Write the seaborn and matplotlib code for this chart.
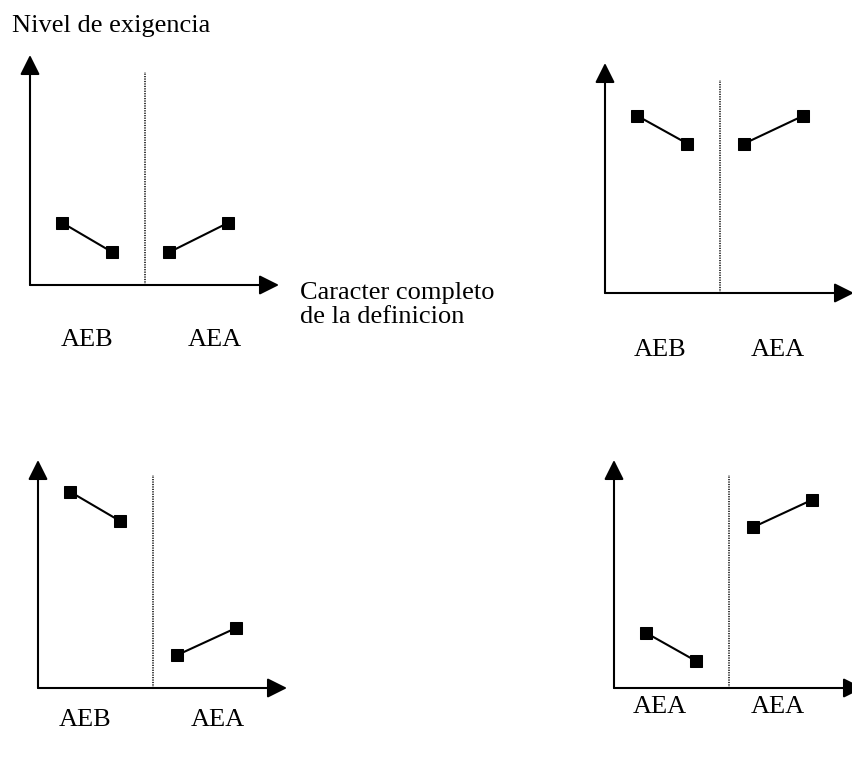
import matplotlib.pyplot as plt
import seaborn as sns
import pandas as pd

sns.set_theme(style="white")
plt.rcParams['font.family'] = ['Liberation Serif', 'DejaVu Serif']
plt.rcParams['text.color'] = 'black'

# data
x_pos = [1.3, 3.3, 5.6, 7.95]
segments = ["izq", "izq", "der", "der"]
panel1_y = [2.7, 1.43, 1.43, 2.7]
panel2_y = [7.7, 6.5, 6.5, 7.7]
panel3_y = [8.6, 7.32, 1.45, 2.63]
panel4_y = [2.41, 1.18, 7.06, 8.25]
panel1_labels = ["AEB", "AEA"]
panel2_labels = ["AEB", "AEA"]
panel3_labels = ["AEB", "AEA"]
panel4_labels = ["AEA", "AEA"]
divider_x = 4.62
y_title = "Nivel de exigencia"
x_title = ["Caracter completo", "de la definicion"]

W, H = 852, 758
fig = plt.figure(figsize=(W / 100, H / 100), dpi=100)

# layout in pixels: origin x, origin y, height, label y, label x centres, divider top
panels = [
    (panel1_y, panel1_labels, 30, 285, 230, 340, (87, 215), 0.926),
    (panel2_y, panel2_labels, 605, 293, 230, 350, (660, 778), 0.926),
    (panel3_y, panel3_labels, 38, 688, 228, 720, (85, 218), 0.934),
    (panel4_y, panel4_labels, 614, 688, 228, 707, (660, 778), 0.934),
]
axw = 249

for yv, labels, ox, oy, h, ly, lxs, dtop in panels:
    ax = fig.add_axes([ox / W, 1 - oy / H, axw / W, h / H])
    df = pd.DataFrame({"x": x_pos, "y": yv, "seg": segments})
    sns.lineplot(data=df, x="x", y="y", units="seg", estimator=None,
                 marker="s", color="black", markersize=8, markeredgecolor="black",
                 linewidth=1.5, legend=False, ax=ax)
    ax.axvline(divider_x, ymin=0, ymax=dtop, color="black", lw=1.1,
               linestyle=(0, (0.8, 0.8)))
    ax.set_xlim(0, 10)
    ax.set_ylim(0, 10)
    ax.set_axis_off()
    arrow = dict(arrowstyle="-|>,head_length=1.0,head_width=0.5", color="black",
                 lw=1.5, shrinkA=0, shrinkB=0)
    ax.annotate("", xy=(1, 0), xytext=(0, 0), xycoords="axes fraction",
                textcoords="axes fraction", arrowprops=arrow, annotation_clip=False)
    ax.annotate("", xy=(0, 1), xytext=(0, 0), xycoords="axes fraction",
                textcoords="axes fraction", arrowprops=arrow, annotation_clip=False)
    for lab, lx in zip(labels, lxs):
        fig.text(lx / W, 1 - ly / H, lab, ha="center", va="center", fontsize=19)

fig.text(12 / W, 1 - 32 / H, y_title, ha="left", va="baseline", fontsize=19)
for line, by in zip(x_title, (299, 323)):
    fig.text(300 / W, 1 - by / H, line, ha="left", va="baseline", fontsize=19)

fig.savefig("out.png", dpi=100, facecolor="white")
